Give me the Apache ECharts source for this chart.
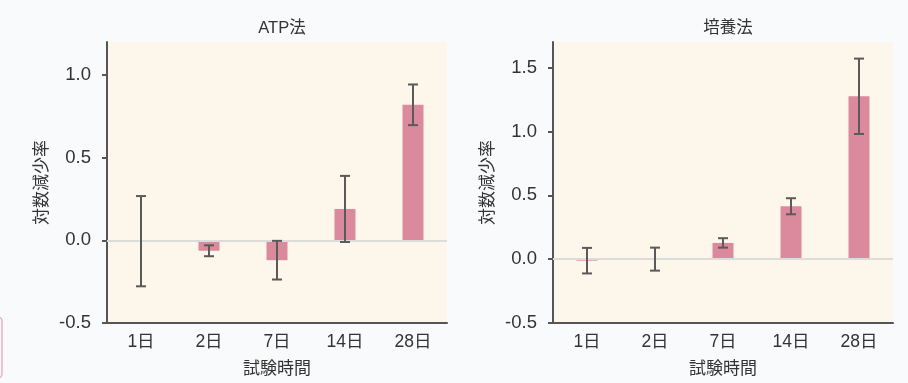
<!DOCTYPE html>
<html><head><meta charset="utf-8">
<script src="https://cdn.jsdelivr.net/npm/echarts@6/dist/echarts.min.js"></script>
<style>html,body{margin:0;padding:0;background:#f9fafb;}#c{width:908px;height:383px;}</style>
</head><body><div id="c"></div>
<script>
const categories = ['1日', '2日', '7日', '14日', '28日'];
const titles = ['ATP法', '培養法'];
const yName = '対数減少率';
const xName = '試験時間';
const atpValues = [-0.005, -0.063, -0.12, 0.19, 0.82];
const atpErrors = [0.273, 0.033, 0.117, 0.2, 0.123];
const cultureValues = [-0.012, 0.0, 0.127, 0.414, 1.275];
const cultureErrors = [0.1, 0.09, 0.037, 0.063, 0.295];
const atpTicks = [-0.5, 0.0, 0.5, 1.0];
const cultureTicks = [-0.5, 0.0, 0.5, 1.0, 1.5];
const atpRange = [-0.5, 1.2];
const cultureRange = [-0.5, 1.7];

const FONT = "'Liberation Sans', 'Noto Sans CJK JP', sans-serif";
const TXT = '#333';
const AX = '#555';
const BAR = '#db8a9d';

const chart = echarts.init(document.getElementById('c'));

function errData(vals, errs) {
  return vals.map((v, i) => [i, v - errs[i], v + errs[i]]);
}
function errRender(params, api) {
  const x = api.value(0);
  const lo = api.coord([x, api.value(1)]);
  const hi = api.coord([x, api.value(2)]);
  const hw = 5;
  const st = { stroke: '#5a5a5a', lineWidth: 2 };
  return { type: 'group', children: [
    { type: 'line', shape: { x1: lo[0], y1: lo[1], x2: hi[0], y2: hi[1] }, style: st },
    { type: 'line', shape: { x1: lo[0] - hw, y1: lo[1], x2: lo[0] + hw, y2: lo[1] }, style: st },
    { type: 'line', shape: { x1: hi[0] - hw, y1: hi[1], x2: hi[0] + hw, y2: hi[1] }, style: st }
  ]};
}
function yAxis(idx, range, ticks) {
  return {
    type: 'value', gridIndex: idx, min: range[0], max: range[1],
    name: yName, nameLocation: 'middle', nameRotate: 90, nameGap: 56,
    nameTextStyle: { fontSize: 17, color: TXT, fontFamily: FONT },
    axisLine: { show: true, lineStyle: { color: AX, width: 2 } },
    axisTick: { show: true, length: 5, lineStyle: { color: AX, width: 2 }, customValues: ticks },
    axisLabel: { customValues: ticks, margin: 16, fontSize: 18.5, color: TXT, fontFamily: FONT,
      formatter: v => v.toFixed(1) },
    splitLine: { show: false }
  };
}
function xAxis(idx) {
  return {
    type: 'category', gridIndex: idx, data: categories,
    name: xName, nameLocation: 'middle', nameGap: 38,
    nameTextStyle: { fontSize: 17, color: TXT, fontFamily: FONT },
    axisLine: { onZero: false, lineStyle: { color: AX, width: 2 } },
    axisTick: { show: false },
    axisLabel: { margin: 10, fontSize: 17.5, color: TXT, fontFamily: FONT }
  };
}
function barSeries(idx, vals) {
  return {
    type: 'bar', xAxisIndex: idx, yAxisIndex: idx, data: vals, barWidth: 21,
    itemStyle: { color: BAR }, silent: true,
    markLine: { silent: true, symbol: 'none', label: { show: false },
      lineStyle: { color: '#dcdcdc', width: 2, type: 'solid' },
      data: [{ yAxis: 0 }] }
  };
}
function errSeries(idx, vals, errs) {
  return { type: 'custom', xAxisIndex: idx, yAxisIndex: idx, data: errData(vals, errs),
    renderItem: errRender, z: 5, silent: true };
}

chart.setOption({
  backgroundColor: '#f9fafb',
  animation: false,
  graphic: [{ type: 'rect', shape: { x: -10, y: 317, width: 12, height: 61, r: 4 },
    style: { fill: 'none', stroke: '#eab0c0', lineWidth: 1.5 } }],
  title: [
    { text: titles[0], left: 277, top: 15, textAlign: 'center',
      textStyle: { fontSize: 16.5, fontWeight: 'normal', color: TXT, fontFamily: FONT } },
    { text: titles[1], left: 723, top: 15, textAlign: 'center',
      textStyle: { fontSize: 16.5, fontWeight: 'normal', color: TXT, fontFamily: FONT } }
  ],
  grid: [
    { left: 107, right: 461, top: 42, bottom: 54, show: true, backgroundColor: '#fdf7eb', borderWidth: 0 },
    { left: 553, right: 15, top: 42, bottom: 54, show: true, backgroundColor: '#fdf7eb', borderWidth: 0 }
  ],
  xAxis: [xAxis(0), xAxis(1)],
  yAxis: [yAxis(0, atpRange, atpTicks), yAxis(1, cultureRange, cultureTicks)],
  series: [
    barSeries(0, atpValues), errSeries(0, atpValues, atpErrors),
    barSeries(1, cultureValues), errSeries(1, cultureValues, cultureErrors)
  ]
});
</script></body></html>
